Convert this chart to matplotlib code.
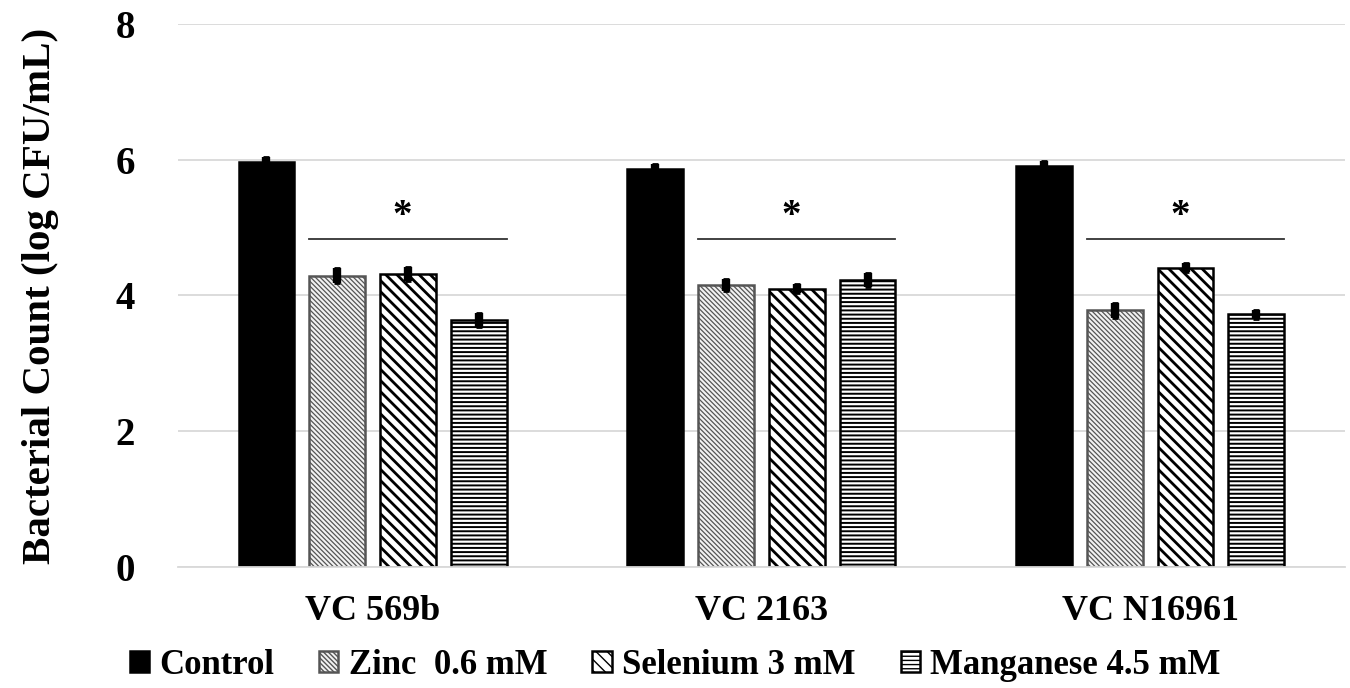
import matplotlib.pyplot as plt
import numpy as np

plt.rcParams['font.family'] = ['Liberation Serif', 'DejaVu Serif']
plt.rcParams['font.weight'] = 'bold'

strains = ["VC 569b", "VC 2163", "VC N16961"]
treatments = ["Control", "Zinc  0.6 mM", "Selenium 3 mM", "Manganese 4.5 mM"]

control = [5.97, 5.87, 5.91]
zinc = [4.29, 4.16, 3.78]
selenium = [4.32, 4.10, 4.41]
manganese = [3.64, 4.23, 3.72]

control_sd = [0.07, 0.07, 0.07]
zinc_sd = [0.11, 0.09, 0.11]
selenium_sd = [0.10, 0.07, 0.07]
manganese_sd = [0.10, 0.10, 0.07]

values = [control, zinc, selenium, manganese]
errors = [control_sd, zinc_sd, selenium_sd, manganese_sd]

styles = [
    dict(color="black", edgecolor="black", hatch=None, hlw=1.0),
    dict(color="#f2f2f2", edgecolor="#555555", hatch="\\\\\\\\\\\\\\", hlw=0.9),
    dict(color="white", edgecolor="black", hatch="\\\\\\", hlw=2.0),
    dict(color="white", edgecolor="black", hatch="----", hlw=1.4),
]

fig, ax = plt.subplots(figsize=(13.5, 6.88), dpi=100)
fig.subplots_adjust(left=0.132, right=0.996, bottom=0.176, top=0.965)

x = np.arange(len(strains))
spacing = 0.182
width = 0.1436
offsets = (np.arange(4) - 1.5) * spacing

for i in range(4):
    st = styles[i]
    with plt.rc_context({'hatch.linewidth': st["hlw"]}):
        ax.bar(x + offsets[i], values[i], width, color=st["color"],
               edgecolor=st["edgecolor"], hatch=st["hatch"], linewidth=1.8,
               label=treatments[i], zorder=2)
    ax.errorbar(x + offsets[i], values[i], yerr=errors[i], fmt="none",
                ecolor="black", elinewidth=6, capsize=2, capthick=2, zorder=3)

# significance lines
for g in x:
    x0 = g + offsets[1] - width / 2
    x1 = g + offsets[3] + width / 2
    ax.plot([x0, x1], [4.83, 4.83], color="#333333", linewidth=1.3)
    ax.text((x0 + x1) / 2 - 0.015, 5.17, "*", ha="center", va="center", fontsize=28)

ax.set_ylim(0, 8)
ax.set_xlim(-0.5, 2.5)
ax.set_yticks([0, 2, 4, 6, 8])
ax.set_xticks(x)
ax.set_xticklabels(strains, fontsize=26)
ax.tick_params(axis="y", labelsize=28, length=0, pad=31)
ax.tick_params(axis="x", length=0, pad=20)
ax.grid(axis="y", color="#d9d9d9", linewidth=1.3, zorder=0)
ax.set_axisbelow(True)
for s in ["top", "right", "left"]:
    ax.spines[s].set_visible(False)
ax.spines["bottom"].set_color("#d9d9d9")
ax.spines["bottom"].set_linewidth(1.3)

ax.set_ylabel("Bacterial Count (log CFU/mL)", fontsize=29.5, fontweight="bold",
              labelpad=41)

fig.legend(loc="center", bbox_to_anchor=(0.5, 0.033), ncol=4, frameon=False,
           fontsize=25, handlelength=0.55, handleheight=0.55,
           handletextpad=0.3, columnspacing=1.3)

fig.savefig("out.png", dpi=100)
